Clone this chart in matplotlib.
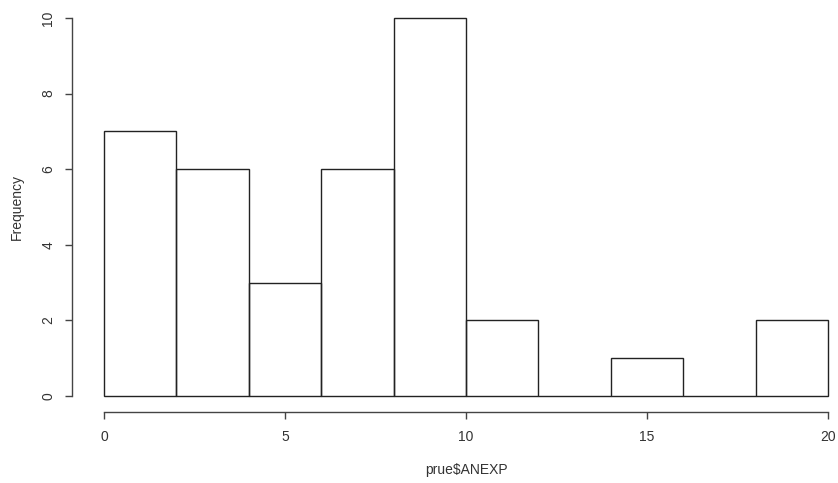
import matplotlib
matplotlib.use("Agg")
import matplotlib.pyplot as plt
import numpy as np

bin_edges = [0, 2, 4, 6, 8, 10, 12, 14, 16, 18, 20]
counts = [7, 6, 3, 6, 10, 2, 0, 1, 0, 2]
xticks = [0, 5, 10, 15, 20]
yticks = [0, 2, 4, 6, 8, 10]
xlabel = "prue$ANEXP"
ylabel = "Frequency"

plt.rcParams['font.family'] = ['Liberation Sans', 'DejaVu Sans']
W, H = 838, 483
fig = plt.figure(figsize=(W / 100, H / 100), dpi=100)
ax = fig.add_axes([104 / W, 87 / H, 724 / W, 378 / H])

edges = np.array(bin_edges, dtype=float)
ax.bar(edges[:-1], counts, width=np.diff(edges), align='edge',
       fill=False, edgecolor='#222222', linewidth=1.0, clip_on=False)

ax.set_xlim(0, 20)
ax.set_ylim(0, 10)
for s in ['top', 'right']:
    ax.spines[s].set_visible(False)
ax.spines['left'].set_position(('outward', 32 * 0.72))
ax.spines['bottom'].set_position(('outward', 16 * 0.72))
ax.spines['left'].set_bounds(0, 10)
ax.spines['bottom'].set_bounds(0, 20)
for s in ['left', 'bottom']:
    ax.spines[s].set_color('#444444')
    ax.spines[s].set_linewidth(1.0)

ax.set_xticks(xticks)
ax.set_yticks(yticks)
ax.set_yticklabels([str(v) for v in yticks], rotation=90, va='center')
ax.tick_params(axis='both', length=5, width=1.0, color='#444444',
               labelcolor='#333333', labelsize=10)
ax.tick_params(axis='y', pad=7)
ax.tick_params(axis='x', pad=8)

fig.text(466 / W, 1 - 470 / H, xlabel, ha='center', va='center',
         fontsize=10, color='#333333')
fig.text(17 / W, 1 - 207 / H, ylabel, ha='center', va='center',
         rotation=90, fontsize=10, color='#333333')

fig.savefig("out.png", dpi=100)
